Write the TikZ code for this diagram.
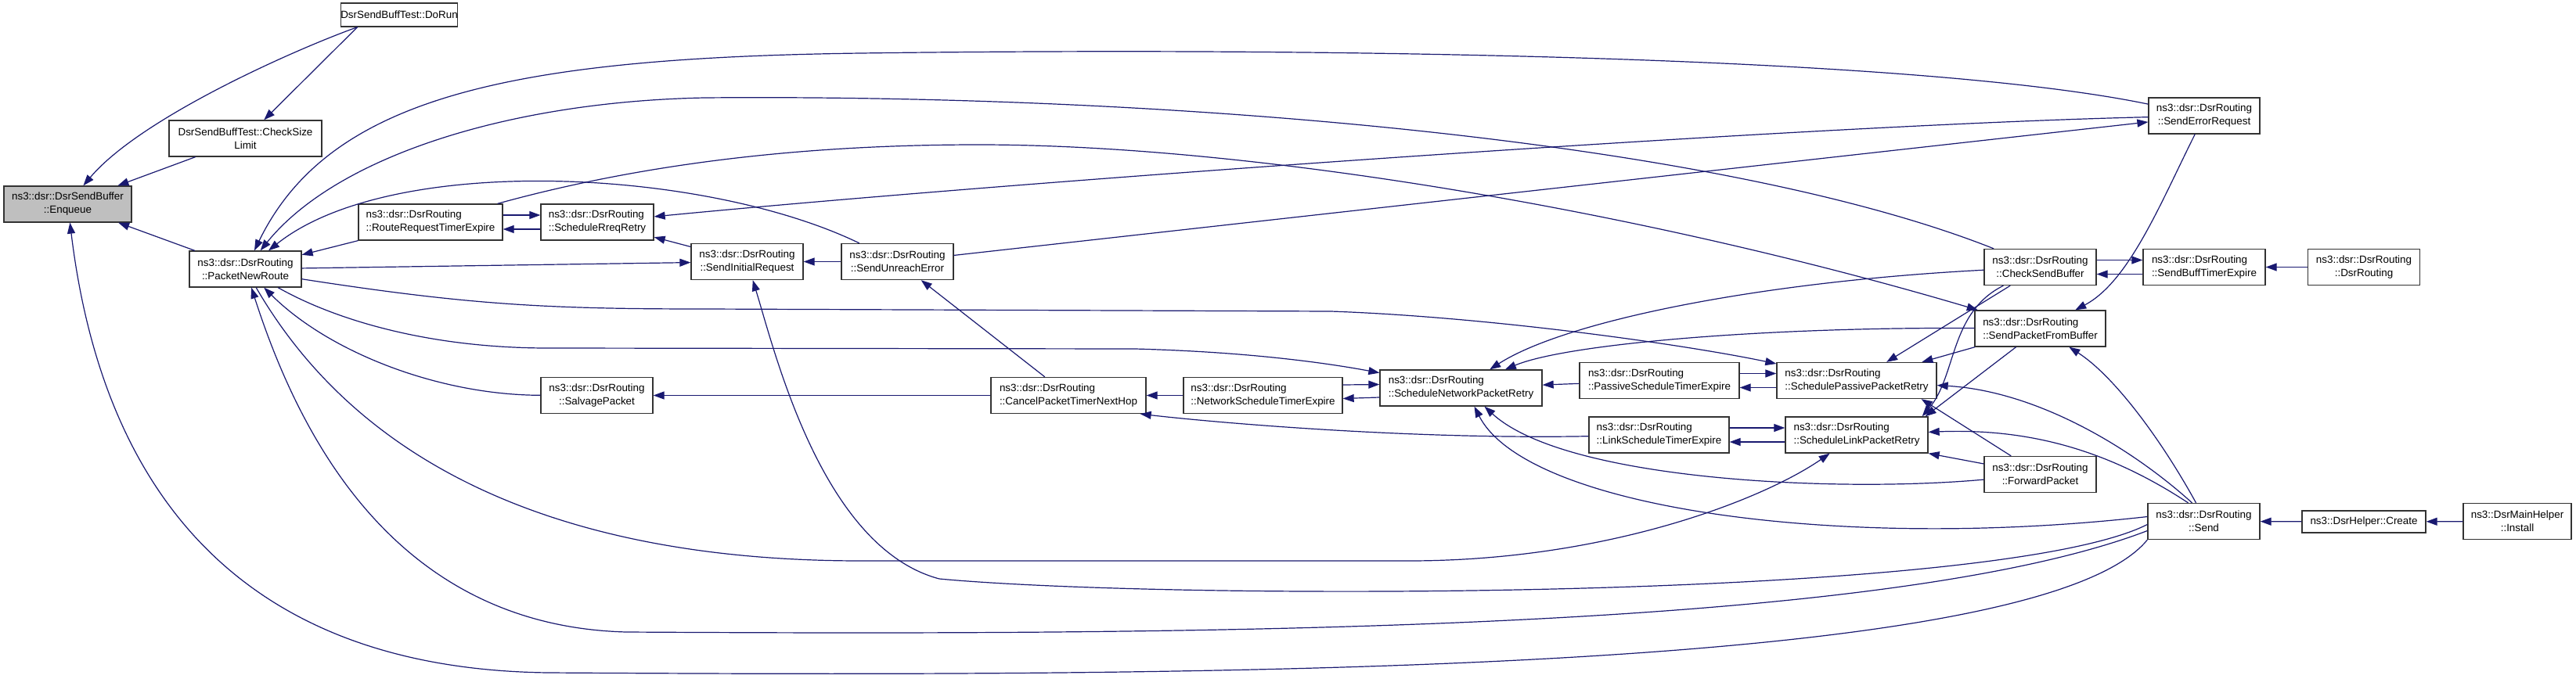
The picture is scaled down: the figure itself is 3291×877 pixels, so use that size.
\documentclass[tikz,border=0pt]{standalone}
\usepackage{fontspec}
\setmainfont{Liberation Sans}
\usetikzlibrary{arrows.meta}
\definecolor{edgeblue}{HTML}{191970}
\definecolor{boxgray}{HTML}{BFBFBF}
\begin{document}
\begin{tikzpicture}[x=1pt,y=-1pt,
    fn/.style={draw=black!80, fill=white, line width=1.3pt, inner sep=0pt, minimum height=46pt,
      align=center, font=\fontsize{13.4}{17}\selectfont},
    fnl/.style={fn, align=left},
    one/.style={minimum height=28pt},
    root/.style={fill=boxgray},
    call/.style={draw=edgeblue, line width=1.2pt, -{Triangle[length=14pt,width=10pt]}},
  ]
  \fill[white] (0,0) rectangle (3291,877);
  \useasboundingbox (0,0) rectangle (3291,877);

  \node[fn, root, minimum width=163pt] (enq) at (86.5,261) {ns3::dsr::DsrSendBuffer\\::Enqueue};
  \node[fn, minimum height=30pt, minimum width=112pt] (dorun) at (510,19) {DsrSendBuffTest::DoRun};
  \node[fn, minimum width=195pt] (csl) at (313.5,177) {DsrSendBuffTest::CheckSize\\Limit};
  \node[fn, minimum width=143pt] (pnr) at (313.5,344) {ns3::dsr::DsrRouting\\::PacketNewRoute};
  \node[fnl, minimum width=184pt] (rrte) at (550,284) {ns3::dsr::DsrRouting\\::RouteRequestTimerExpire};
  \node[fnl, minimum width=144pt] (srr) at (763,284) {ns3::dsr::DsrRouting\\::ScheduleRreqRetry};
  \node[fn, minimum width=143pt] (sir) at (954.5,334.5) {ns3::dsr::DsrRouting\\::SendInitialRequest};
  \node[fn, minimum width=143pt] (sue) at (1146.5,334.5) {ns3::dsr::DsrRouting\\::SendUnreachError};
  \node[fn, minimum width=143pt] (salv) at (762.5,505.5) {ns3::dsr::DsrRouting\\::SalvagePacket};
  \node[fnl, minimum width=198pt] (cancel) at (1365,505.5) {ns3::dsr::DsrRouting\\::CancelPacketTimerNextHop};
  \node[fnl, minimum width=203pt] (netexp) at (1613.5,505.5) {ns3::dsr::DsrRouting\\::NetworkScheduleTimerExpire};
  \node[fnl, minimum width=207pt] (schnet) at (1866.5,496) {ns3::dsr::DsrRouting\\::ScheduleNetworkPacketRetry};
  \node[fnl, minimum width=204pt] (pasexp) at (2120,486.5) {ns3::dsr::DsrRouting\\::PassiveScheduleTimerExpire};
  \node[fnl, minimum width=179pt] (linkexp) at (2119.5,556) {ns3::dsr::DsrRouting\\::LinkScheduleTimerExpire};
  \node[fnl, minimum width=204pt] (schpas) at (2372,486.5) {ns3::dsr::DsrRouting\\::SchedulePassivePacketRetry};
  \node[fnl, minimum width=182pt] (schlink) at (2372,556) {ns3::dsr::DsrRouting\\::ScheduleLinkPacketRetry};
  \node[fn, minimum width=143pt] (csb) at (2606.5,341.5) {ns3::dsr::DsrRouting\\::CheckSendBuffer};
  \node[fnl, minimum width=167pt] (spfb) at (2606.5,420) {ns3::dsr::DsrRouting\\::SendPacketFromBuffer};
  \node[fn, minimum width=143pt] (fwd) at (2606.5,606.5) {ns3::dsr::DsrRouting\\::ForwardPacket};
  \node[fn, minimum width=142pt] (serr) at (2816,148) {ns3::dsr::DsrRouting\\::SendErrorRequest};
  \node[fnl, minimum width=156pt] (sbte) at (2816,341.5) {ns3::dsr::DsrRouting\\::SendBuffTimerExpire};
  \node[fn, minimum width=143pt] (ctor) at (3020,341.5) {ns3::dsr::DsrRouting\\::DsrRouting};
  \node[fn, minimum width=143pt] (send) at (2815.5,666.5) {ns3::dsr::DsrRouting\\::Send};
  \node[fn, one, minimum width=158pt] (create) at (3020,667) {ns3::DsrHelper::Create};
  \node[fn, minimum width=138pt] (install) at (3216,666.5) {ns3::DsrMainHelper\\::Install};

  % callers of Enqueue
  \draw[call] ([xshift=22pt]dorun.south west) .. controls (380,62) and (180,150) .. (enq);
  \draw[call] ([xshift=22pt]dorun.south west) -- (csl);
  \draw[call] (csl) -- (enq);
  \draw[call] (pnr) -- (enq);
  \draw[call] (send.south west) .. controls (2600,865) and (1500,865) .. (700,860)
    .. controls (300,855) and (130,620) .. (enq);

  % callers of PacketNewRoute
  \draw[call] (rrte.south west) -- (pnr);
  \draw[call] (salv) .. controls (560,505) and (420,450) .. (pnr);
  \draw[call] (sue) .. controls (900,215) and (500,195) .. (pnr);
  \draw[call] (serr) .. controls (2450,72) and (1700,60) .. (1100,68)
    .. controls (650,74) and (420,125) .. (pnr);
  \draw[call] (csb) .. controls (2200,180) and (1500,120) .. (900,125)
    .. controls (650,130) and (430,200) .. (pnr);
  \draw[call] ([yshift=-12pt]send.west) .. controls (2400,810) and (1500,812) .. (800,808)
    .. controls (500,800) and (380,550) .. (pnr);

  % called from PacketNewRoute
  \draw[call] (pnr) -- (sir);
  \draw[call] (pnr) .. controls (430,410) and (550,445) .. (700,445) -- (1450,446)
    .. controls (1600,450) and (1700,465) .. (schnet);
  \draw[call] (pnr.-10) .. controls (600,390) and (700,395) .. (900,395) -- (1700,398)
    .. controls (1900,405) and (2150,440) .. (schpas);
  \draw[call] (pnr) .. controls (410,510) and (600,717) .. (1100,717) -- (1800,717)
    .. controls (2050,717) and (2250,640) .. (schlink);

  \draw[call] ([yshift=9pt]rrte.east) -- ([yshift=9pt]srr.west);
  \draw[call] ([yshift=-9pt]srr.west) -- ([yshift=-9pt]rrte.east);
  \draw[call] (serr) .. controls (2300,160) and (1300,232) .. (srr);
  \draw[call] (sir) -- (srr);
  \draw[call] (sue) -- (sir);
  \draw[call] (sue) -- (serr);
  \draw[call] ([yshift=-4pt]send.west) .. controls (2550,768) and (1500,768) .. (1200,740)
    .. controls (1050,700) and (990,450) .. (sir);
  \draw[call] (cancel) -- (sue);
  \draw[call] (cancel) -- (salv);
  \draw[call] (netexp) -- (cancel);
  \draw[call] ([yshift=13.5pt]netexp.east) -- ([yshift=4.5pt]schnet.west);
  \draw[call] ([yshift=-12pt]schnet.west) -- ([yshift=-4pt]netexp.east);
  \draw[call] (pasexp) -- (schnet);
  \draw[call] (linkexp) .. controls (1800,562) and (1550,540) .. ([xshift=-8pt]cancel.south east);
  \draw[call] ([yshift=9pt]pasexp.east) -- ([yshift=9pt]schpas.west);
  \draw[call] ([yshift=-9pt]schpas.west) -- ([yshift=-9pt]pasexp.east);
  \draw[call] ([yshift=9pt]linkexp.east) -- ([yshift=9pt]schlink.west);
  \draw[call] ([yshift=-9pt]schlink.west) -- ([yshift=-9pt]linkexp.east);
  \draw[call] (rrte) .. controls (800,215) and (1000,185) .. (1250,185)
    .. controls (1600,185) and (2100,270) .. (spfb);

  % retry scheduling
  \draw[call] (csb) .. controls (2250,360) and (2000,410) .. (schnet);
  \draw[call] (spfb) .. controls (2250,418) and (2000,440) .. (schnet);
  \draw[call] (csb) -- (schpas);
  \draw[call] (spfb) -- (schpas);
  \draw[call] (csb) .. controls (2490,400) and (2500,480) .. ([xshift=-8pt]schlink.north east);
  \draw[call] (spfb) -- ([xshift=-4pt]schlink.north east);
  \draw[call] (fwd) -- ([xshift=-20pt]schpas.south east);
  \draw[call] (fwd) -- (schlink.south east);
  \draw[call] (fwd) .. controls (2350,630) and (2000,615) .. ([xshift=30pt]schnet.south);
  \draw[call] ([yshift=6pt]send.west) .. controls (2350,705) and (1950,650) .. ([xshift=17pt]schnet.south);
  \draw[call] ([xshift=-15pt]send.north) .. controls (2720,570) and (2600,500) .. (schpas);
  \draw[call] ([xshift=-20pt]send.north) .. controls (2700,580) and (2600,547) .. (schlink);
  \draw[call] ([xshift=-10pt]send.north) .. controls (2760,560) and (2700,480) .. (spfb);
  \draw[call] (serr) .. controls (2760,260) and (2720,360) .. (spfb);
  \draw[call] ([yshift=9pt]csb.east) -- ([yshift=9pt]sbte.west);
  \draw[call] ([yshift=-9pt]sbte.west) -- ([yshift=-9pt]csb.east);
  \draw[call] (ctor) -- (sbte);
  \draw[call] (create) -- (send);
  \draw[call] (install) -- (create);
\end{tikzpicture}
\end{document}
